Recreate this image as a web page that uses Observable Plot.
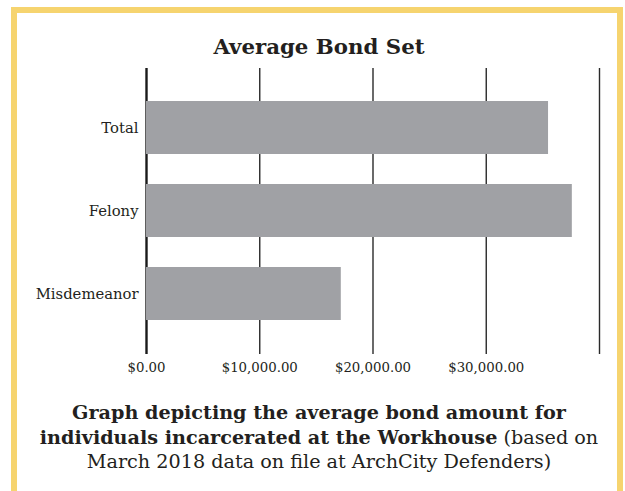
<!DOCTYPE html>
<html>
<head>
<meta charset="utf-8">
<script src="https://cdn.jsdelivr.net/npm/d3@7"></script>
<script src="https://cdn.jsdelivr.net/npm/@observablehq/plot@0.6"></script>
<style>
  html, body { margin: 0; padding: 0; background: #fff; width: 625px; height: 491px; overflow: hidden; }
  #frame { position: absolute; left: 11px; top: 7px; width: 612px; height: 490px; box-sizing: border-box; border: 6px solid #f6d46f; }
  #title { position: absolute; left: 0; width: 638px; top: 34px; text-align: center; font-family: "DejaVu Serif", serif; font-weight: bold; font-size: 21.3px; color: #231f20; }
  #chart { position: absolute; left: 0; top: 0; }
  #caption { position: absolute; left: 0; width: 638px; top: 401px; text-align: center; font-family: "DejaVu Serif", serif; font-size: 19.2px; line-height: 24.5px; color: #231f20; white-space: nowrap; }
  #caption b { font-weight: bold; }
</style>
</head>
<body>
<div id="frame"></div>
<div id="chart"></div>
<div id="title">Average Bond Set</div>
<div id="caption"><b>Graph depicting the average bond amount for<br>individuals incarcerated at the Workhouse</b> (based on<br>March 2018 data on file at ArchCity Defenders)</div>
<script>
const categories = ["Total", "Felony", "Misdemeanor"];
const values = [35500, 37600, 17200];
const gridTicks = [0, 10000, 20000, 30000, 40000];
const tickLabels = [0, 10000, 20000, 30000];

const data = categories.map((c, i) => ({category: c, value: values[i]}));

const chart = Plot.plot({
  width: 625,
  height: 380,
  marginLeft: 146,
  marginRight: 26,
  marginTop: 68,
  marginBottom: 26,
  style: {fontFamily: "DejaVu Serif, serif", color: "#231f20", background: "transparent"},
  x: {domain: [0, 40000], axis: null},
  y: {domain: categories, paddingInner: 0.36, paddingOuter: 0.4, align: 0.5, label: null},
  marks: [
    Plot.ruleX(gridTicks.filter(d => d !== 0), {stroke: "#2a2a2a", strokeWidth: 1.4}),
    Plot.ruleX([0], {stroke: "#1a1a1a", strokeWidth: 2.4}),
    Plot.barX(data, {x: "value", y: "category", fill: "#a0a1a5"}),
    Plot.axisX(tickLabels, {tickSize: 0, tickPadding: 8, tickFormat: d3.format("$,.2f"), label: null, fontSize: 13.3}),
    Plot.axisY({tickSize: 0, tickPadding: 8, label: null, fontSize: 14.8})
  ]
});
document.getElementById("chart").appendChild(chart);
</script>
</body>
</html>
